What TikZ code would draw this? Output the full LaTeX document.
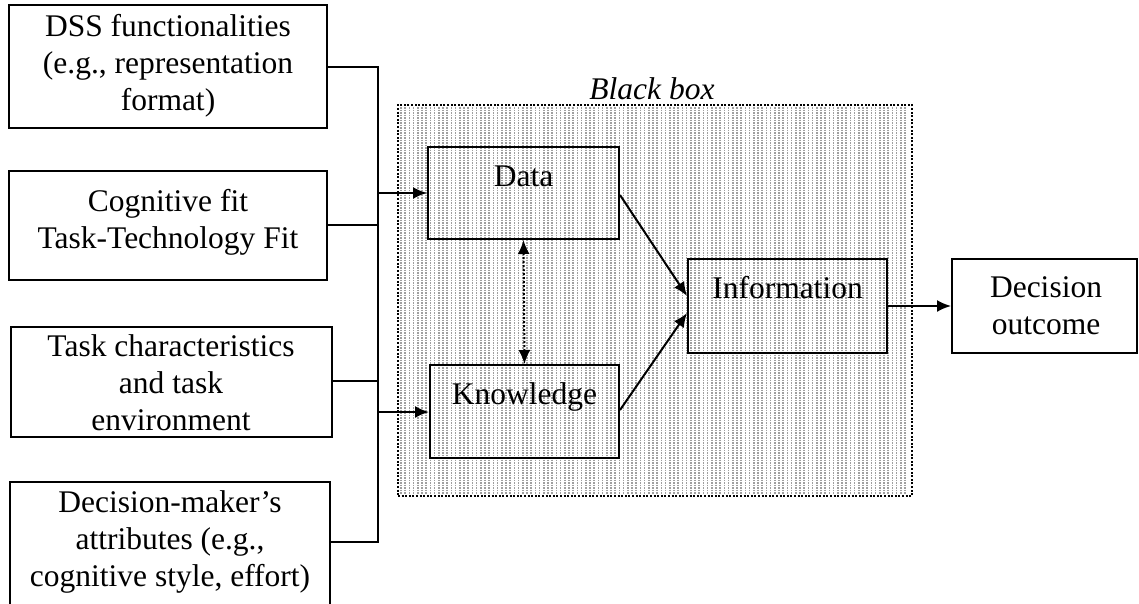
\documentclass[tikz,border=0pt]{standalone}
\usepackage{fontspec}
\setmainfont{Liberation Serif}
\usetikzlibrary{arrows.meta}
\begin{document}
\begin{tikzpicture}[x=1pt,y=-1pt,
  box/.style={draw, line width=2pt, inner sep=0pt},
  lbl/.style={font=\fontsize{31.5}{37}\selectfont, align=center, inner sep=0pt},
  wire/.style={line width=2pt},
  tip/.style={-{Latex[length=14pt,width=12pt]}},
  stipple/.style={gray!75, line width=1.5pt, dash pattern=on 1.5pt off 1pt}
]
\useasboundingbox (0,0) rectangle (1139,603);

% shaded "black box" region: stippled vertical strokes inside a dotted frame
\foreach \x in {401,405.2,...,909} \draw[stipple] (\x,107) -- (\x,494);
\node[draw, line width=2.2pt, dash pattern=on 2pt off 1.6pt, inner sep=0pt, minimum width=514pt, minimum height=391pt]
  (blackbox) at (655,300.5) {};
\node[lbl, anchor=base, font=\fontsize{31.5}{37}\selectfont\itshape] (bbtitle) at (652,99) {Black box};

% input factor boxes on the left (label anchors sit on the last baseline)
\node[box, minimum width=318pt, minimum height=123pt] (dss)  at (168,66.5) {};
\node[lbl, anchor=base] (dsst) at (168,110) {DSS functionalities\\(e.g., representation\\format)};
\node[box, minimum width=318pt, minimum height=109pt] (cog)  at (168,225.5) {};
\node[lbl, anchor=base] (cogt) at (168,248) {Cognitive fit\\Task-Technology Fit};
\node[box, minimum width=321pt, minimum height=110pt] (task) at (171.5,382) {};
\node[lbl, anchor=base] (taskt) at (171,430) {Task characteristics\\and task\\environment};
\node[box, minimum width=320pt, minimum height=140pt] (dm)   at (170,552) {};
\node[lbl, anchor=base] (dmt) at (170,586) {Decision-maker's\\attributes (e.g.,\\cognitive style, effort)};

% inner boxes
\node[box, minimum width=191pt, minimum height=92pt] (data) at (523.5,193) {};
\node[lbl, anchor=base] (datat) at (523.5,186) {Data};
\node[box, minimum width=189pt, minimum height=93pt] (know) at (524.5,411.5) {};
\node[lbl, anchor=base] (knowt) at (524.5,404) {Knowledge};
\node[box, minimum width=199pt, minimum height=94pt] (info) at (787.5,306) {};
\node[lbl, anchor=base] (infot) at (787.5,298) {Information};

% outcome box
\node[box, minimum width=185pt, minimum height=94pt] (dec) at (1044.5,306) {};
\node[lbl, anchor=base] (dect) at (1046,334) {Decision\\outcome};

% collecting bus on the left
\coordinate (bustop) at (378,67);
\coordinate (busbot) at (378,542);
\draw[wire] (dss.east |- bustop) -- (bustop) -- (busbot) -- (dm.east |- busbot);
\draw[wire] (cog.east |- 0,225) -- (378,225);
\draw[wire] (task.east |- 0,381) -- (378,381);
\draw[wire, tip] (378,193) -- (data.west);
\draw[wire, tip] (378,412) -- (know.west |- 0,412);

% flows inside the black box
\draw[wire, tip] (data.east |- 0,195) -- (info.west |- 0,296);
\draw[wire, tip] (know.east |- 0,410) -- (info.west |- 0,313);
\draw[wire, dotted, {Latex[length=14pt,width=12pt]}-{Latex[length=14pt,width=12pt]}] (data.south) -- (know.north);

% result
\draw[wire, tip] (info.east) -- (dec.west);
\end{tikzpicture}
\end{document}
